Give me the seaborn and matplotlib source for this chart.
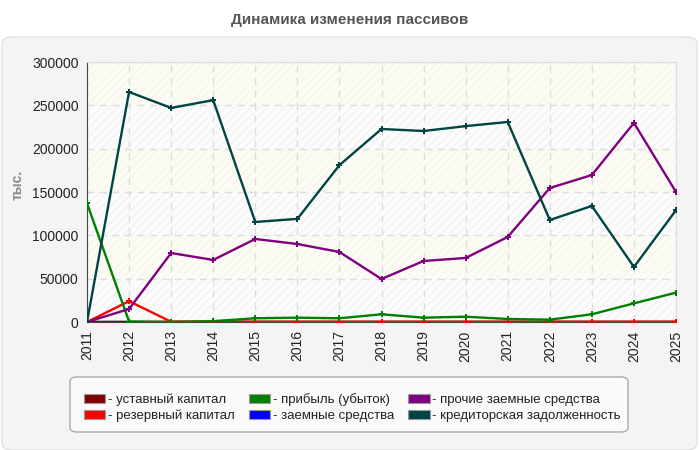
import matplotlib
matplotlib.use("Agg")
import matplotlib.pyplot as plt
from matplotlib.patches import FancyBboxPatch, Patch
import seaborn as sns
import pandas as pd

years = list(range(2011, 2026))
ustavny = [500, 500, 500, 500, 500, 500, 500, 500, 500, 500, 500, 500, 500, 500, 500]
rezervny = [0, 24000, 300, 300, 300, 300, 300, 300, 300, 300, 300, 300, 300, 300, 300]
pribyl = [137000, 500, 0, 1000, 4300, 5000, 4300, 8900, 5000, 6100, 3500, 2700, 8900, 21500, 33900]
zaemnye = [0, 0, 0, 0, 0, 0, 0, 0, 0, 0, 0, 0, 0, 0, 0]
prochie = [0, 15000, 79600, 71600, 95800, 90000, 80800, 49600, 70400, 73900, 98100, 154600, 169600, 229700, 150000]
kreditor = [0, 265400, 247000, 256000, 115400, 119000, 181000, 222700, 220400, 226000, 230800, 117700, 133900, 63500, 129000]

names = ["- уставный капитал", "- резервный капитал", "- прибыль (убыток)",
         "- заемные средства", "- прочие заемные средства", "- кредиторская задолженность"]
colors = ["#800000", "#ff0000", "#008000", "#0000ff", "#800080", "#004444"]
series = [ustavny, rezervny, pribyl, zaemnye, prochie, kreditor]

rows = []
for name, vals in zip(names, series):
    for y, v in zip(years, vals):
        rows.append({"year": y, "value": v, "series": name})
df = pd.DataFrame(rows)
palette = dict(zip(names, colors))
# blue drawn first so the red line covers it at zero
draw_order = [names[3], names[0], names[1], names[2], names[4], names[5]]

sns.set_style("white")
plt.rcParams["font.family"] = ["Liberation Sans", "DejaVu Sans"]
plt.rcParams["hatch.linewidth"] = 0.6

fig = plt.figure(figsize=(7, 4.5), dpi=100)
fig.patch.set_facecolor("white")

# grey rounded panel behind the chart
panel = FancyBboxPatch((2 / 700, 0.0), 695 / 700, (450 - 37) / 450,
                       boxstyle="round,pad=0,rounding_size=0.015",
                       transform=fig.transFigure, facecolor="#f4f4f4",
                       edgecolor="#e2e2e2", linewidth=1, zorder=-2)
fig.patches.append(panel)

fig.text(0.5, 1 - 20 / 450, "Динамика изменения пассивов", ha="center", va="center",
         fontsize=11, fontweight="bold", color="#555555")

ax = fig.add_axes([87 / 700, 1 - 322 / 450, (676 - 87) / 700, (322 - 62) / 450])
ax.set_zorder(1)
ax.set_facecolor("#fdfdf7")
for i in range(6):
    lo, hi = i * 50000, (i + 1) * 50000
    if i % 2 == 0:
        ax.axhspan(lo, hi, facecolor="#fcfcfc", edgecolor="#eeeeee", hatch="////",
                   linewidth=0, zorder=0)
    else:
        ax.axhspan(lo, hi, facecolor="#fcfcf4", edgecolor="#f3f3ec", hatch="////",
                   linewidth=0, zorder=0)

sns.lineplot(data=df, x="year", y="value", hue="series", palette=palette,
             hue_order=draw_order, marker="P", markersize=5, markeredgewidth=0,
             linewidth=1.7, ax=ax, legend=False, zorder=3)

ax.set_xlim(2011, 2025)
ax.set_ylim(0, 300000)
ax.set_xticks(years)
ax.set_xticklabels([str(y) for y in years], rotation=90, fontsize=10, color="#222222")
ax.set_yticks(range(0, 300001, 50000))
ax.set_yticklabels([str(v) for v in range(0, 300001, 50000)], fontsize=10, color="#222222")
ax.tick_params(axis="both", direction="out", length=4, width=1, color="#555555", pad=2)
ax.grid(True, linestyle=(0, (5, 4)), color="#dddddd", linewidth=1)
ax.set_axisbelow(True)
for s in ["top", "right"]:
    ax.spines[s].set_color("#dddddd")
for s in ["left", "bottom"]:
    ax.spines[s].set_color("#444444")
ax.set_xlabel("")
ax.set_ylabel("")
fig.text(18 / 700, 1 - 185 / 450, "тыс.", rotation=90, ha="center", va="center",
         fontsize=10, fontweight="bold", color="#888888")

legbox = FancyBboxPatch((70 / 700, 1 - 432 / 450), (628 - 70) / 700, (432 - 377) / 450,
                        boxstyle="round,pad=0,rounding_size=0.01",
                        transform=fig.transFigure, facecolor="#fafafa",
                        edgecolor="#aaaaaa", linewidth=1, zorder=-1)
fig.patches.append(legbox)

handles = [Patch(facecolor=c, edgecolor="#999999", linewidth=0.8) for c in colors]
fig.legend(handles, names, ncol=3, loc="upper left", bbox_to_anchor=(72 / 700, 1 - 381 / 450),
           frameon=False, fontsize=9.5, handlelength=1.6, handleheight=0.7,
           handletextpad=0.2, columnspacing=1.1, labelspacing=0.3, labelcolor="#222222")

fig.savefig("out.png", dpi=100)
